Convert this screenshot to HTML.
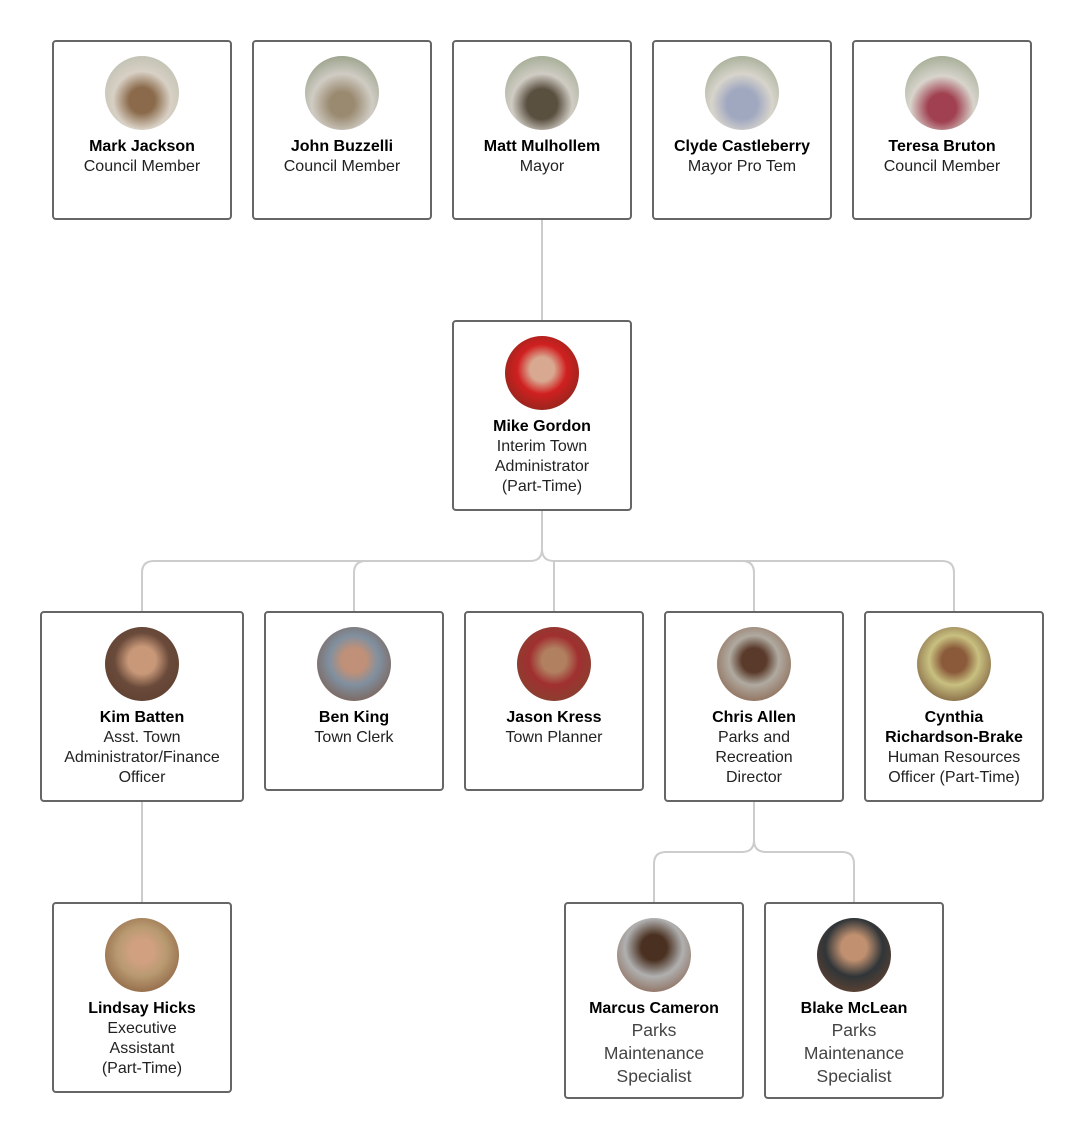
<!DOCTYPE html>
<html><head><meta charset="utf-8"><style>
body{margin:0;width:1084px;height:1140px;background:#fff;position:relative;font-family:"Liberation Sans",sans-serif;overflow:hidden}
.b{position:absolute;box-sizing:border-box;border:2px solid #666;border-radius:4px;background:#fff;text-align:center;font-size:16px;line-height:20px;color:#222}
.av{width:74px;height:74px;border-radius:50%;margin:14px auto 7px;}
.n{font-weight:bold;color:#000}
.big{font-size:17.5px;line-height:23px;color:#444}
svg{position:absolute;left:0;top:0}
</style></head><body>
<svg width="1084" height="1140"><g fill="none" stroke="#cccccc" stroke-width="2">
<path d="M542 220V320"/>
<path d="M542 511V549Q542 561 530 561H154Q142 561 142 573V611"/>
<path d="M542 549Q542 561 554 561H942Q954 561 954 573V611"/>
<path d="M354 611V573Q354 561 366 561"/>
<path d="M554 561V611"/>
<path d="M754 611V573Q754 561 742 561"/>
<path d="M142 802V902"/>
<path d="M754 802V840Q754 852 742 852H666Q654 852 654 864V902"/>
<path d="M754 840Q754 852 766 852H842Q854 852 854 864V902"/>
</g></svg>
<div class="b" style="left:52px;top:40px;width:180px;height:180px"><div class="av" style="background:radial-gradient(circle at 50% 60%,#8a6a4a 0 22%,#d8d0c4 50%,#b0b8a8)"></div><div class="n">Mark Jackson</div>Council Member</div>
<div class="b" style="left:252px;top:40px;width:180px;height:180px"><div class="av" style="background:radial-gradient(circle at 50% 65%,#9a8a70 0 20%,#d0ccc4 50%,#7a8a6a)"></div><div class="n">John Buzzelli</div>Council Member</div>
<div class="b" style="left:452px;top:40px;width:180px;height:180px"><div class="av" style="background:radial-gradient(circle at 50% 65%,#5a5040 0 25%,#d0ccc4 50%,#8a9a7a)"></div><div class="n">Matt Mulhollem</div>Mayor</div>
<div class="b" style="left:652px;top:40px;width:180px;height:180px"><div class="av" style="background:radial-gradient(circle at 50% 65%,#a0a8c0 0 25%,#d8d4cc 50%,#8a9a7a)"></div><div class="n">Clyde Castleberry</div>Mayor Pro Tem</div>
<div class="b" style="left:852px;top:40px;width:180px;height:180px"><div class="av" style="background:radial-gradient(circle at 50% 70%,#a04050 0 22%,#d8d4cc 50%,#8a9a7a)"></div><div class="n">Teresa Bruton</div>Council Member</div>
<div class="b" style="left:452px;top:320px;width:180px;height:191px"><div class="av" style="background:radial-gradient(circle at 50% 45%,#d8a890 0 22%,#d02020 45%,#6a2a1a)"></div><div class="n">Mike Gordon</div>Interim Town<br>Administrator<br>(Part-Time)</div>
<div class="b" style="left:40px;top:611px;width:204px;height:191px"><div class="av" style="background:radial-gradient(circle at 50% 45%,#c89878 0 25%,#6a4a3a 50%,#5a3a2a)"></div><div class="n">Kim Batten</div>Asst. Town<br>Administrator/Finance<br>Officer</div>
<div class="b" style="left:264px;top:611px;width:180px;height:180px"><div class="av" style="background:radial-gradient(circle at 50% 45%,#c09078 0 22%,#8090a0 45%,#7a4a30)"></div><div class="n">Ben King</div>Town Clerk</div>
<div class="b" style="left:464px;top:611px;width:180px;height:180px"><div class="av" style="background:radial-gradient(circle at 50% 45%,#b08060 0 22%,#a03030 45%,#7a4a30)"></div><div class="n">Jason Kress</div>Town Planner</div>
<div class="b" style="left:664px;top:611px;width:180px;height:191px"><div class="av" style="background:radial-gradient(circle at 50% 45%,#5a3a2a 0 22%,#b0aaa0 45%,#7a4a30)"></div><div class="n">Chris Allen</div>Parks and<br>Recreation<br>Director</div>
<div class="b" style="left:864px;top:611px;width:180px;height:191px"><div class="av" style="background:radial-gradient(circle at 50% 45%,#8a5a3a 0 22%,#c8c080 45%,#5a3020)"></div><div class="n">Cynthia<br>Richardson-Brake</div>Human Resources<br>Officer (Part-Time)</div>
<div class="b" style="left:52px;top:902px;width:180px;height:191px"><div class="av" style="background:radial-gradient(circle at 50% 45%,#d0a080 0 22%,#b89a70 45%,#7a4a30)"></div><div class="n">Lindsay Hicks</div>Executive<br>Assistant<br>(Part-Time)</div>
<div class="b" style="left:564px;top:902px;width:180px;height:197px"><div class="av" style="background:radial-gradient(circle at 50% 40%,#4a3020 0 22%,#b0b0b0 50%,#7a4a30)"></div><div class="n">Marcus Cameron</div><div class="big">Parks<br>Maintenance<br>Specialist</div></div>
<div class="b" style="left:764px;top:902px;width:180px;height:197px"><div class="av" style="background:radial-gradient(circle at 50% 40%,#c09070 0 22%,#303538 50%,#7a4a30)"></div><div class="n">Blake McLean</div><div class="big">Parks<br>Maintenance<br>Specialist</div></div>
</body></html>
